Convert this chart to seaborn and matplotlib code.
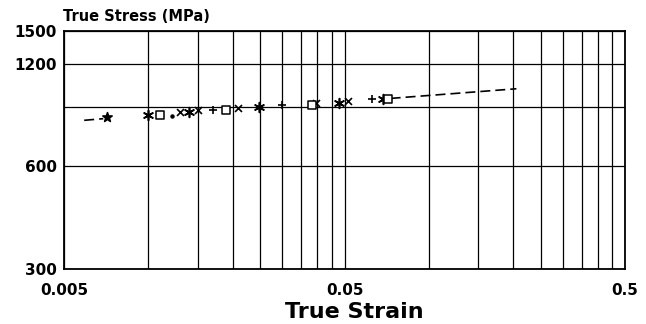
import matplotlib
matplotlib.use("Agg")
import matplotlib.pyplot as plt
import seaborn as sns
import pandas as pd

# points, grouped by marker symbol
star_strain = [0.0071]
star_stress = [841]
aster_strain = [0.0100, 0.0140, 0.0248, 0.0478, 0.0686]
aster_stress = [848, 870, 900, 924, 949]
square_strain = [0.0110, 0.0189, 0.0383, 0.0715]
square_stress = [850, 882, 912, 949]
dot_strain = [0.0121]
dot_stress = [847]
cross_strain = [0.0130, 0.0150, 0.0209, 0.0396, 0.0515]
cross_stress = [870, 882, 894, 924, 937]
plus_strain = [0.0170, 0.0300, 0.0627]
plus_stress = [882, 912, 949]

# dashed fit line, drawn only outside the data range
fit_left_strain = [0.0059, 0.0069]
fit_left_stress = [820, 829]
fit_right_strain = [0.073, 0.205]
fit_right_stress = [951, 1015]

x_grid = [0.005, 0.01, 0.015, 0.02, 0.025, 0.03, 0.035, 0.04, 0.045, 0.05,
          0.1, 0.15, 0.2, 0.25, 0.3, 0.35, 0.4, 0.45, 0.5]
x_labels = {0.005: "0.005", 0.05: "0.05", 0.5: "0.5"}
y_grid = [300, 600, 900, 1200, 1500]
y_labels = {300: "300", 600: "600", 1200: "1200", 1500: "1500"}

sns.set_style("white")
plt.rcParams['font.family'] = ['DejaVu Sans']
plt.rcParams['text.color'] = 'black'
plt.rcParams['xtick.color'] = 'black'
plt.rcParams['ytick.color'] = 'black'

fig = plt.figure(figsize=(6.46, 3.24), dpi=100)
ax = fig.add_axes([0.0991, 0.1698, 0.8684, 0.7345])

# fit line
for xs, ys in [(fit_left_strain, fit_left_stress), (fit_right_strain, fit_right_stress)]:
    sns.lineplot(x=xs, y=ys, ax=ax, color="black", lw=1.2,
                 linestyle=(0, (6, 3)), zorder=3)

groups = [
    (star_strain, star_stress, "*", 7),
    (aster_strain, aster_stress, (6, 2, 0), 7),
    (dot_strain, dot_stress, ".", 4),
    (cross_strain, cross_stress, "x", 5),
    (plus_strain, plus_stress, "+", 6),
]
for xs, ys, mk, ms in groups:
    df = pd.DataFrame({"strain": xs, "stress": ys})
    sns.scatterplot(data=df, x="strain", y="stress", ax=ax, marker=mk,
                    s=ms ** 2, color="black", edgecolor="black", linewidth=1.2, zorder=4)

df_sq = pd.DataFrame({"strain": square_strain, "stress": square_stress})
sns.scatterplot(data=df_sq, x="strain", y="stress", ax=ax, marker="s",
                s=36, facecolor="white", edgecolor="black", linewidth=1.1, zorder=4)

ax.set_xscale("log")
ax.set_yscale("log")
ax.set_xlim(0.005, 0.5)
ax.set_ylim(300, 1500)

ax.set_xticks(x_grid)
ax.set_xticklabels([x_labels.get(v, "") for v in x_grid])
ax.set_yticks(y_grid)
ax.set_yticklabels([y_labels.get(v, "") for v in y_grid])
ax.minorticks_off()
ax.tick_params(axis="both", length=0, labelsize=11, labelcolor="black")
ax.tick_params(axis="x", pad=10)
ax.tick_params(axis="y", pad=5)
for lab in ax.get_xticklabels() + ax.get_yticklabels():
    lab.set_fontweight("bold")

ax.grid(True, color="black", lw=0.9)
ax.set_axisbelow(True)
for sp in ax.spines.values():
    sp.set_color("black")
    sp.set_linewidth(1.3)

ax.set_xlabel("")
ax.set_ylabel("")
fig.text(0.097, 0.935, "True Stress (MPa)", fontsize=10.5, fontweight="bold",
         color="black", ha="left", va="baseline")
fig.text(0.549, 0.02, "True Strain", fontsize=16, fontweight="bold",
         color="black", ha="center", va="baseline")

fig.savefig("out.png", dpi=100)
